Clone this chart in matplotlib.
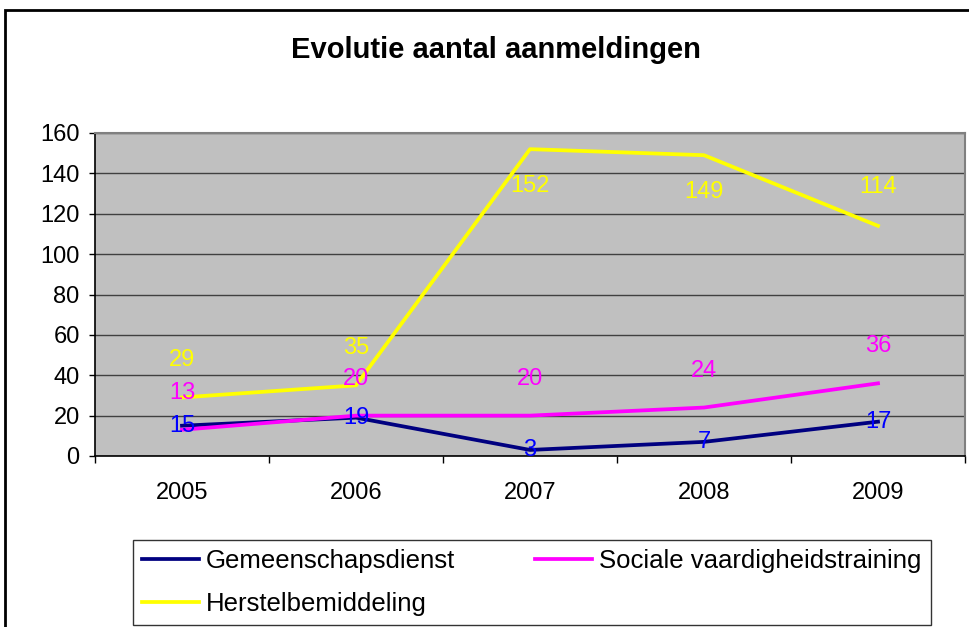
import matplotlib.pyplot as plt
from matplotlib.patches import Rectangle

plt.rcParams['font.family'] = ['Liberation Sans', 'DejaVu Sans']

# Data
years = ['2005', '2006', '2007', '2008', '2009']
gemeenschap = [15, 19, 3, 7, 17]
sociale = [13, 20, 20, 24, 36]
herstel = [29, 35, 152, 149, 114]

# label offsets in pixels (0 = on the point, + above, - below)
herstel_off = [37, 37, -37, -37, 39]

fig = plt.figure(figsize=(9.69, 6.27), dpi=100)
ax = fig.add_axes([95 / 969, 1 - 456 / 627, 870 / 969, 323 / 627])
ax.set_facecolor('#C0C0C0')

x = list(range(len(years)))
l1, = ax.plot(x, gemeenschap, color='#000080', lw=2.7, label='Gemeenschapsdienst')
l2, = ax.plot(x, sociale, color='#FF00FF', lw=2.7, label='Sociale vaardigheidstraining')
l3, = ax.plot(x, herstel, color='#FFFF00', lw=2.7, label='Herstelbemiddeling')

for i in x:
    ax.annotate(str(gemeenschap[i]), (i, gemeenschap[i]), xytext=(0, 0),
                textcoords='offset pixels', ha='center', va='center',
                color='#0000FF', fontsize=17)
    ax.annotate(str(sociale[i]), (i, sociale[i]), xytext=(0, 37),
                textcoords='offset pixels', ha='center', va='center',
                color='#FF00FF', fontsize=17)
    ax.annotate(str(herstel[i]), (i, herstel[i]), xytext=(0, herstel_off[i]),
                textcoords='offset pixels', ha='center', va='center',
                color='#FFFF00', fontsize=17)

ax.set_xlim(-0.5, 4.5)
ax.set_ylim(0, 160)
ax.set_yticks(range(0, 161, 20))
ax.yaxis.grid(True, color='#404040', lw=1)
ax.set_axisbelow(True)
ax.set_xticks(x)
ax.set_xticklabels(years)
ax.set_xticks([-0.5, 0.5, 1.5, 2.5, 3.5, 4.5], minor=True)
ax.tick_params(axis='x', which='major', length=0, pad=19, labelsize=17)
ax.tick_params(axis='x', which='minor', length=5, width=1)
ax.tick_params(axis='y', length=4, width=1, pad=7, labelsize=17)

for s in ['top', 'right']:
    ax.spines[s].set_color('#808080')
    ax.spines[s].set_linewidth(1.5)
for s in ['left', 'bottom']:
    ax.spines[s].set_color('black')
    ax.spines[s].set_linewidth(1.2)

fig.text(496 / 969, 1 - 50 / 627, 'Evolutie aantal aanmeldingen',
         ha='center', va='center', fontsize=21, fontweight='bold')

leg = fig.legend([l1, l3, l2],
                 ['Gemeenschapsdienst', 'Herstelbemiddeling', 'Sociale vaardigheidstraining'],
                 loc='upper left', bbox_to_anchor=(133 / 969, 1 - 540 / 627),
                 ncol=2, fontsize=18.5, frameon=True, fancybox=False,
                 handlelength=2.2, handletextpad=0.3, columnspacing=3.1,
                 labelspacing=0.75, borderpad=0.35, borderaxespad=0)
leg.get_frame().set_edgecolor('black')
leg.get_frame().set_linewidth(1)

# outer chart frame
fig.patches.append(Rectangle((5 / 969, -0.1), 1.2, 1.1 - 10 / 627, transform=fig.transFigure,
                             fill=False, edgecolor='black', lw=2))

fig.savefig('out.png', dpi=100)
